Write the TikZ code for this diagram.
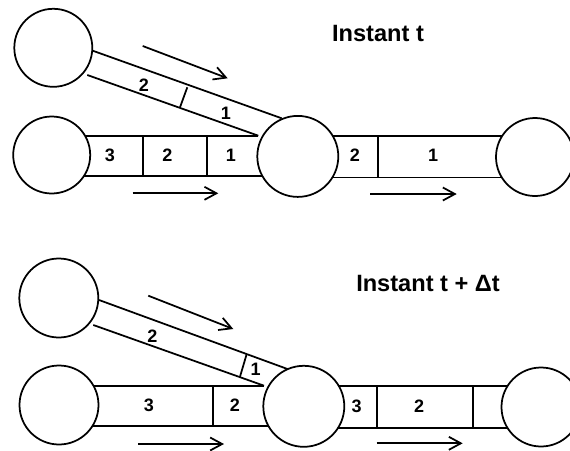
\documentclass[tikz,border=0pt]{standalone}
\usepackage{fontspec}
\setmainfont{Liberation Sans}
\usetikzlibrary{arrows.meta}
\begin{document}
\begin{tikzpicture}[x=1pt,y=-1pt,
  wall/.style={line width=1.75pt},
  reservoir/.style={circle,draw,line width=1.75pt,fill=white,inner sep=0pt},
  flow/.style={line width=1.75pt,-{Straight Barb[length=12pt,width=13pt,line width=1.75pt]}},
  lbl/.style={font=\fontsize{18}{18}\selectfont\bfseries,inner sep=0pt},
  title/.style={font=\fontsize{23.6}{24}\selectfont\bfseries,inner sep=0pt}]
\useasboundingbox (0,0) rectangle (570,450);

% ===== Instant t =====
% diagonal channel
\draw[wall] (92.7,50.7) -- (281.7,118.3);
\draw[wall] (87.3,75) -- (258.3,135.7);
\draw[wall] (180,107.3) -- (187.3,87.3);
% lower horizontal channel
\draw[wall] (80,135.7) -- (258.3,135.7);
\draw[wall] (80,176) -- (270,176);
\draw[wall] (143.3,135.7) -- (143.3,176);
\draw[wall] (207.3,135.7) -- (207.3,176);
% right channel
\draw[wall] (320,136) -- (510,136);
\draw[wall] (320,177.5) -- (510,177.5);
\draw[wall] (378.3,136) -- (378.3,177.5);
% reservoirs
\node[reservoir,minimum size=78pt] (a1) at (53.3,47.8) {};
\node[reservoir,minimum size=77pt] (b1) at (51.7,155) {};
\node[reservoir,minimum size=81pt] (m1) at (297.8,156.4) {};
\node[reservoir,minimum size=78pt] (r1) at (535,157) {};
% labels
\node[lbl] (d2) at (144,85.3) {2};
\node[lbl] (d1) at (226,113.3) {1};
\node[lbl] (h3) at (110,155) {3};
\node[lbl] (h2) at (167.5,155) {2};
\node[lbl] (h1) at (231,155) {1};
\node[lbl] (k2) at (355,155) {2};
\node[lbl] (k1) at (433,155) {1};
% arrows
\coordinate (f1s) at (142.7,46);   \coordinate (f1e) at (227.7,78.3);
\coordinate (f2s) at (132.7,193.3); \coordinate (f2e) at (218.3,193.3);
\coordinate (f3s) at (370,194);    \coordinate (f3e) at (456.7,194);
\draw[flow] (f1s) -- (f1e);
\draw[flow] (f2s) -- (f2e);
\draw[flow] (f3s) -- (f3e);
\node[title] (t1) at (378,33.4) {Instant t};

% ===== Instant t + Delta t =====
\draw[wall] (99,300) -- (288.3,369.3);
\draw[wall] (93.3,325) -- (264,385.7);
\draw[wall] (240,376.7) -- (246.7,354);
\draw[wall] (85,385.7) -- (264,385.7);
\draw[wall] (85,426) -- (280,426);
\draw[wall] (212.7,385.7) -- (212.7,426);
\draw[wall] (325,385.7) -- (515,385.7);
\draw[wall] (325,428) -- (515,428);
\draw[wall] (377.3,385.7) -- (377.3,428);
\draw[wall] (472.7,385.7) -- (472.7,428);
\node[reservoir,minimum size=79pt] (a2) at (58.8,298) {};
\node[reservoir,minimum size=79pt] (b2) at (59,405) {};
\node[reservoir,minimum size=81pt] (m2) at (303.8,406.3) {};
\node[reservoir,minimum size=79pt] (r2) at (541,407) {};
\node[lbl] (e2) at (152.3,336) {2};
\node[lbl] (e1) at (255.7,369.3) {1};
\node[lbl] (g3) at (149,405) {3};
\node[lbl] (g2) at (235,405) {2};
\node[lbl] (j3) at (356.7,406) {3};
\node[lbl] (j2) at (419,406) {2};
\coordinate (p1s) at (148.3,295.7); \coordinate (p1e) at (233.3,329);
\coordinate (p2s) at (138.3,444);   \coordinate (p2e) at (224,444);
\coordinate (p3s) at (376.7,443.3); \coordinate (p3e) at (462.7,443.3);
\draw[flow] (p1s) -- (p1e);
\draw[flow] (p2s) -- (p2e);
\draw[flow] (p3s) -- (p3e);
\node[title] (t2) at (428,283.7) {Instant t + Δt};
\end{tikzpicture}
\end{document}
